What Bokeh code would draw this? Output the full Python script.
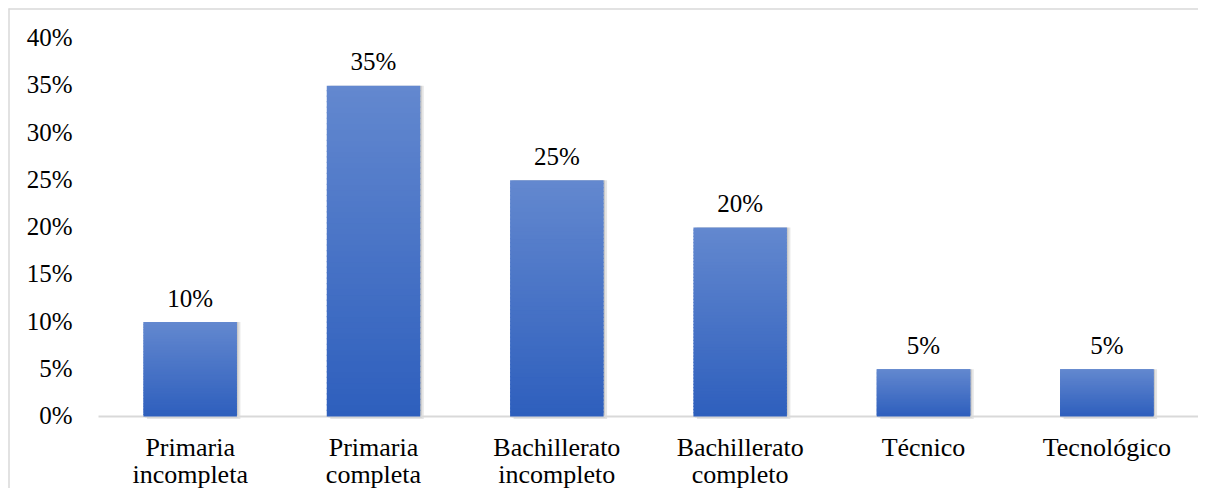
from bokeh.plotting import figure
from bokeh.models import ColumnDataSource, Range1d, LabelSet
from bokeh.embed import file_html
from bokeh.resources import INLINE

categories = ["Primaria incompleta", "Primaria completa", "Bachillerato incompleto",
              "Bachillerato completo", "Técnico", "Tecnológico"]
label_line1 = ["Primaria", "Primaria", "Bachillerato", "Bachillerato", "Técnico", "Tecnológico"]
label_line2 = ["incompleta", "completa", "incompleto", "completo", "", ""]
values = [0.10, 0.35, 0.25, 0.20, 0.05, 0.05]
value_labels = ["10%", "35%", "25%", "20%", "5%", "5%"]
y_ticks = [0.0, 0.05, 0.10, 0.15, 0.20, 0.25, 0.30, 0.35, 0.40]
y_tick_labels = ["0%", "5%", "10%", "15%", "20%", "25%", "30%", "35%", "40%"]

FONT = "Liberation Serif"
TOP_RGB = (99, 136, 207)
BOT_RGB = (46, 95, 189)
N = 60

# layout (pixels)
W, H = 1198, 488
PLOT_LEFT, PLOT_TOP, PLOT_BOTTOM = 98, 38, 416
n = len(categories)
CW = (W - PLOT_LEFT) / n                       # px per category
Y_MAX = y_ticks[-1]
PY = Y_MAX / (PLOT_BOTTOM - PLOT_TOP)          # data per px
X0 = -0.5 - PLOT_LEFT / CW
X1 = n - 0.5
Y0 = -(H - PLOT_BOTTOM) * PY
Y1 = Y_MAX + PLOT_TOP * PY


def px_x(px):
    return X0 + px / CW


def px_y(py):
    return Y1 - py * PY


p = figure(width=W, height=H, x_range=Range1d(X0, X1), y_range=Range1d(Y0, Y1),
           output_backend="svg", toolbar_location=None,
           x_axis_location=None, y_axis_location=None, min_border=0)
p.outline_line_color = None
p.xgrid.visible = False
p.ygrid.visible = False
p.background_fill_color = "white"
p.border_fill_color = "white"

xi = list(range(n))

# chart border (top and left edges)
p.segment(x0=[px_x(8.5), px_x(8)], y0=[px_y(8), px_y(8.5)],
          x1=[px_x(8.5), px_x(W)], y1=[px_y(H), px_y(8.5)],
          line_color="#d9d9d9", line_width=1.5)

# shadow
shadow = ColumnDataSource(dict(x=[i + 3.5 / CW for i in xi], top=values,
                               bottom=[-2.5 * PY] * n))
p.vbar(x="x", top="top", bottom="bottom", width=0.51, source=shadow,
       fill_color="#000000", fill_alpha=0.10, line_color=None)
shadow2 = ColumnDataSource(dict(x=[i + 1.5 / CW for i in xi], top=values,
                                bottom=[-1.2 * PY] * n))
p.vbar(x="x", top="top", bottom="bottom", width=0.51, source=shadow2,
       fill_color="#000000", fill_alpha=0.12, line_color=None)

# category axis line
p.segment(x0=[-0.5], y0=[0], x1=[n - 0.5], y1=[0], line_color="#d9d9d9", line_width=2)

# gradient bars built from strips
xs, bots, tops, cols = [], [], [], []
for i, v in zip(xi, values):
    for k in range(N):
        t = (k + 0.5) / N
        r = round(BOT_RGB[0] + (TOP_RGB[0] - BOT_RGB[0]) * t)
        g = round(BOT_RGB[1] + (TOP_RGB[1] - BOT_RGB[1]) * t)
        b = round(BOT_RGB[2] + (TOP_RGB[2] - BOT_RGB[2]) * t)
        xs.append(i)
        bots.append(v * k / N)
        tops.append(min(v, v * (k + 1) / N + 1.2 * PY))
        cols.append("#%02x%02x%02x" % (r, g, b))
strips = ColumnDataSource(dict(x=xs, bottom=bots, top=tops, color=cols))
p.vbar(x="x", bottom="bottom", top="top", width=0.51, source=strips,
       fill_color="color", line_color=None)

labels = ColumnDataSource(dict(x=xi, val=values, txt=value_labels,
                               l1=label_line1, l2=label_line2, zero=[0] * n))
p.add_layout(LabelSet(x="x", y="val", text="txt", source=labels, text_align="center",
                      text_baseline="middle", y_offset=24, text_font=FONT,
                      text_font_size="25px", text_color="#000000"))
p.add_layout(LabelSet(x="x", y="zero", text="l1", source=labels, text_align="center",
                      text_baseline="middle", y_offset=-31, text_font=FONT,
                      text_font_size="26px", text_color="#000000"))
p.add_layout(LabelSet(x="x", y="zero", text="l2", source=labels, text_align="center",
                      text_baseline="middle", y_offset=-58, text_font=FONT,
                      text_font_size="26px", text_color="#000000"))

ticks = ColumnDataSource(dict(x=[-0.5] * len(y_ticks), y=y_ticks, txt=y_tick_labels))
p.add_layout(LabelSet(x="x", y="y", text="txt", source=ticks, text_align="right",
                      text_baseline="middle", x_offset=-26, y_offset=1, text_font=FONT,
                      text_font_size="25px", text_color="#000000"))

open("out.html", "w").write(file_html(p, INLINE))
